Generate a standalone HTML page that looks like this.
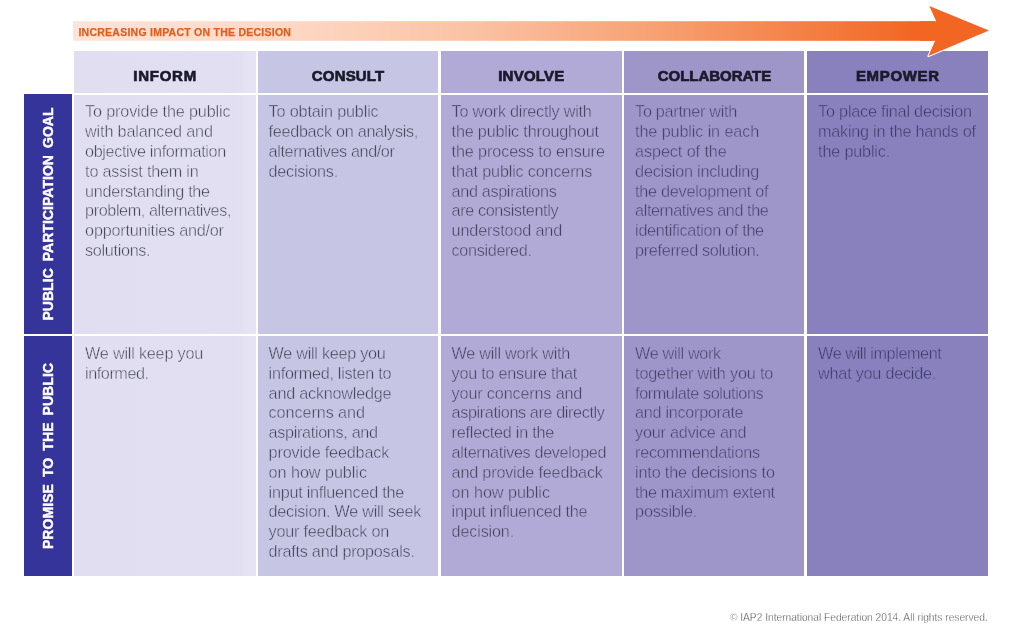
<!DOCTYPE html>
<html lang="en">
<head>
<meta charset="utf-8">
<title>IAP2 Public Participation Spectrum</title>
<style>
html,body{margin:0;padding:0;background:#fff;}
body{width:1024px;height:636px;position:relative;overflow:hidden;font-family:"Liberation Sans",sans-serif;}
.abs{position:absolute;}
.cell{position:absolute;}
.c1{background:linear-gradient(90deg,#e0def0 0%,#e1dff1 90%,#e6e4f4 97%,#e6e4f4 100%);}
.c2{background:#c6c5e4;}
.c3{background:#b1aad6;}
.c4{background:#9e95c9;}
.c5{background:#8881be;}
.side{position:absolute;left:24px;width:48px;background:#34349a;}
.side span{position:absolute;left:50%;top:50%;white-space:nowrap;color:#fff;font-weight:bold;font-size:14px;word-spacing:3px;letter-spacing:0.04px;transform:translate(-50%,-50%) rotate(-90deg) scale(1,1.07);-webkit-text-stroke:0.4px #fff;}
.hd{position:absolute;top:51px;height:41.5px;line-height:50.2px;text-align:center;font-weight:bold;font-size:15px;color:#1b1a2b;-webkit-text-stroke:0.7px #1b1a2b;box-sizing:border-box;white-space:nowrap;}
.tx{position:absolute;font-size:16.2px;letter-spacing:-0.22px;line-height:19.8px;color:#3e3f52;white-space:nowrap;}
.tx.t1{-webkit-text-stroke:0.45px #e1dff1;}
.tx.t2{-webkit-text-stroke:0.45px #c6c5e4;}
.tx.t3{-webkit-text-stroke:0.45px #b1aad6;color:#3f3e5a;}
.tx.t4{-webkit-text-stroke:0.45px #9e95c9;color:#423f68;}
.tx.t5{-webkit-text-stroke:0.45px #8881be;color:#3c3966;}
#lbl{position:absolute;left:78.4px;top:24.7px;font-size:10.5px;font-weight:bold;color:#e25f1d;-webkit-text-stroke:0.25px #e25f1d;letter-spacing:0.25px;white-space:nowrap;line-height:14px;}
#foot{position:absolute;right:36.3px;top:610.9px;font-size:10.2px;color:#3c3c42;-webkit-text-stroke:0.3px #fff;white-space:nowrap;line-height:14px;}
</style>
</head>
<body>
<!-- arrow -->
<svg class="abs" style="left:0;top:0" width="1024" height="70" viewBox="0 0 1024 70">
<defs>
<linearGradient id="ag" x1="74" y1="0" x2="989" y2="0" gradientUnits="userSpaceOnUse">
<stop offset="0" stop-color="#fde4d8"/>
<stop offset="0.225" stop-color="#fdd9c6"/>
<stop offset="0.444" stop-color="#fbc1a3"/>
<stop offset="0.662" stop-color="#f79c6c"/>
<stop offset="0.86" stop-color="#f37333"/>
<stop offset="0.92" stop-color="#f26522"/>
<stop offset="1" stop-color="#f26522"/>
</linearGradient>
</defs>
<rect x="73" y="21.2" width="871" height="19.6" fill="url(#ag)"/>
</svg>

<!-- header cells -->
<div class="cell c1" style="left:74px;top:51px;width:181.5px;height:41.7px"></div>
<div class="cell c2" style="left:257.8px;top:51px;width:180.4px;height:41.7px"></div>
<div class="cell c3" style="left:440.5px;top:51px;width:181.3px;height:41.7px"></div>
<div class="cell c4" style="left:624.2px;top:51px;width:180.1px;height:41.7px"></div>
<div class="cell c5" style="left:806.7px;top:51px;width:181.3px;height:41.7px"></div>
<div class="cell c1" style="left:74px;top:94.5px;width:181.5px;height:239.3px"></div>
<div class="cell c2" style="left:257.8px;top:94.5px;width:180.4px;height:239.3px"></div>
<div class="cell c3" style="left:440.5px;top:94.5px;width:181.3px;height:239.3px"></div>
<div class="cell c4" style="left:624.2px;top:94.5px;width:180.1px;height:239.3px"></div>
<div class="cell c5" style="left:806.7px;top:94.5px;width:181.3px;height:239.3px"></div>
<div class="cell c1" style="left:74px;top:336.0px;width:181.5px;height:239.8px"></div>
<div class="cell c2" style="left:257.8px;top:336.0px;width:180.4px;height:239.8px"></div>
<div class="cell c3" style="left:440.5px;top:336.0px;width:181.3px;height:239.8px"></div>
<div class="cell c4" style="left:624.2px;top:336.0px;width:180.1px;height:239.8px"></div>
<div class="cell c5" style="left:806.7px;top:336.0px;width:181.3px;height:239.8px"></div>

<!-- arrow head (over table) -->
<svg class="abs" style="left:900px;top:0" width="124" height="70" viewBox="900 0 124 70">
<polygon points="929.3,5.9 989,30.6 928.4,56.1 935.2,40.6 936.2,21.3" fill="#f26522" stroke="#fff" stroke-width="2" stroke-linejoin="round" paint-order="stroke"/>
<rect x="920" y="21.2" width="17" height="19.6" fill="#f26522"/>
</svg>
<div id="lbl">INCREASING IMPACT ON THE DECISION</div>

<!-- sidebar -->
<div class="side" style="top:94.2px;height:239.6px"><span>PUBLIC PARTICIPATION GOAL</span></div>
<div class="side" style="top:336px;height:239.8px"><span style="letter-spacing:0.08px">PROMISE TO THE PUBLIC</span></div>

<!-- headers -->
<div class="hd" style="left:74px;width:181.5px;letter-spacing:0.75px;padding-left:0.75px">INFORM</div>
<div class="hd" style="left:257.5px;width:181px;letter-spacing:0.15px;padding-left:0.15px">CONSULT</div>
<div class="hd" style="left:440.5px;width:181.5px;letter-spacing:0.25px;padding-left:0.25px">INVOLVE</div>
<div class="hd" style="left:624px;width:181px;letter-spacing:-0.05px;padding-left:0px">COLLABORATE</div>
<div class="hd" style="left:807px;width:181px;letter-spacing:0.65px;padding-left:0.65px">EMPOWER</div>

<!-- TEXT-BEGIN -->
<div class="tx t1" style="left:85.1px;top:102.4px"><span style="letter-spacing:-0.152px">To provide the public</span><br><span style="letter-spacing:-0.164px">with balanced and</span><br><span style="letter-spacing:-0.366px">objective information</span><br><span style="letter-spacing:-0.206px">to assist them in</span><br><span style="letter-spacing:-0.290px">understanding the</span><br><span style="letter-spacing:-0.402px">problem, alternatives,</span><br><span style="letter-spacing:-0.220px">opportunities and/or</span><br><span style="letter-spacing:-0.320px">solutions.</span></div>
<div class="tx t2" style="left:268.6px;top:102.4px"><span style="letter-spacing:-0.160px">To obtain public</span><br><span style="letter-spacing:-0.299px">feedback on analysis,</span><br><span style="letter-spacing:-0.383px">alternatives and/or</span><br><span style="letter-spacing:-0.270px">decisions.</span></div>
<div class="tx t3" style="left:451.6px;top:102.4px"><span style="letter-spacing:-0.231px">To work directly with</span><br><span style="letter-spacing:-0.186px">the public throughout</span><br><span style="letter-spacing:-0.119px">the process to ensure</span><br><span style="letter-spacing:-0.173px">that public concerns</span><br><span style="letter-spacing:-0.333px">and aspirations</span><br><span style="letter-spacing:-0.370px">are consistently</span><br><span style="letter-spacing:-0.151px">understood and</span><br><span style="letter-spacing:-0.333px">considered.</span></div>
<div class="tx t4" style="left:635.1px;top:102.4px"><span style="letter-spacing:-0.284px">To partner with</span><br><span style="letter-spacing:-0.114px">the public in each</span><br><span style="letter-spacing:-0.089px">aspect of the</span><br><span style="letter-spacing:-0.220px">decision including</span><br><span style="letter-spacing:-0.246px">the development of</span><br><span style="letter-spacing:-0.398px">alternatives and the</span><br><span style="letter-spacing:-0.299px">identification of the</span><br><span style="letter-spacing:-0.320px">preferred solution.</span></div>
<div class="tx t5" style="left:818.1px;top:102.4px"><span style="letter-spacing:-0.200px">To place final decision</span><br><span style="letter-spacing:-0.241px">making in the hands of</span><br><span style="letter-spacing:-0.175px">the public.</span></div>
<div class="tx t1" style="left:85.1px;top:344.05px"><span style="letter-spacing:-0.205px">We will keep you</span><br><span style="letter-spacing:-0.445px">informed.</span></div>
<div class="tx t2" style="left:268.6px;top:344.05px"><span style="letter-spacing:-0.265px">We will keep you</span><br><span style="letter-spacing:-0.270px">informed, listen to</span><br><span style="letter-spacing:-0.220px">and acknowledge</span><br><span style="letter-spacing:-0.077px">concerns and</span><br><span style="letter-spacing:-0.325px">aspirations, and</span><br><span style="letter-spacing:-0.175px">provide feedback</span><br><span style="letter-spacing:-0.051px">on how public</span><br><span style="letter-spacing:-0.256px">input influenced the</span><br><span style="letter-spacing:-0.252px">decision. We will seek</span><br><span style="letter-spacing:-0.235px">your feedback on</span><br><span style="letter-spacing:-0.243px">drafts and proposals.</span></div>
<div class="tx t3" style="left:451.6px;top:344.05px"><span style="letter-spacing:-0.262px">We will work with</span><br><span style="letter-spacing:-0.233px">you to ensure that</span><br><span style="letter-spacing:-0.150px">your concerns and</span><br><span style="letter-spacing:-0.377px">aspirations are directly</span><br><span style="letter-spacing:-0.235px">reflected in the</span><br><span style="letter-spacing:-0.338px">alternatives developed</span><br><span style="letter-spacing:-0.184px">and provide feedback</span><br><span style="letter-spacing:-0.051px">on how public</span><br><span style="letter-spacing:-0.232px">input influenced the</span><br><span style="letter-spacing:-0.164px">decision.</span></div>
<div class="tx t4" style="left:635.1px;top:344.05px"><span style="letter-spacing:-0.322px">We will work</span><br><span style="letter-spacing:-0.161px">together with you to</span><br><span style="letter-spacing:-0.407px">formulate solutions</span><br><span style="letter-spacing:-0.284px">and incorporate</span><br><span style="letter-spacing:-0.204px">your advice and</span><br><span style="letter-spacing:-0.268px">recommendations</span><br><span style="letter-spacing:-0.164px">into the decisions to</span><br><span style="letter-spacing:-0.339px">the maximum extent</span><br><span style="letter-spacing:-0.220px">possible.</span></div>
<div class="tx t5" style="left:818.1px;top:344.05px"><span style="letter-spacing:-0.403px">We will implement</span><br><span style="letter-spacing:-0.220px">what you decide.</span></div>
<!-- TEXT-END -->

<div id="foot">© IAP2 International Federation 2014. All rights reserved.</div>
</body>
</html>
